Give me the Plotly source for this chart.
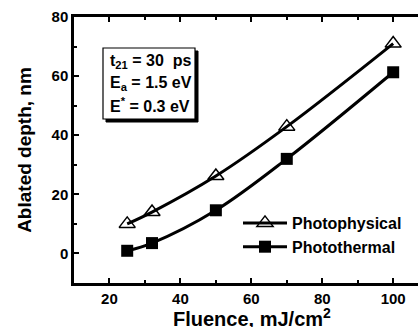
import plotly.graph_objects as go

fluence = [25, 32, 50, 70, 100]
photophysical = [10.0, 14.0, 26.2, 42.9, 71.0]
photothermal = [0.9, 3.5, 14.6, 32.0, 61.3]
box_lines = ["t<sub>21</sub> = 30  ps", "E<sub>a</sub> = 1.5 eV", "E<sup>*</sup> = 0.3 eV"]

font_family = "Liberation Sans, Arial, sans-serif"

fig = go.Figure()
fig.add_trace(go.Scatter(
    x=fluence, y=photophysical, name="Photophysical",
    mode="lines+markers", line=dict(color="black", width=3, shape="spline"),
    marker=dict(symbol="triangle-up-open", size=14, color="black", line=dict(width=1.5)),
))
fig.add_trace(go.Scatter(
    x=fluence, y=photothermal, name="Photothermal",
    mode="lines+markers", line=dict(color="black", width=3, shape="spline"),
    marker=dict(symbol="square", size=12, color="black"),
))

axis_common = dict(
    showgrid=False, zeroline=False, showline=True, linecolor="black", linewidth=2.5,
    ticks="inside", ticklen=5, tickwidth=2, tickcolor="black", automargin=False,
    tickfont=dict(family=font_family, size=15, color="black", weight="bold"),
)

fig.update_xaxes(
    range=[10, 107], tickvals=[20, 40, 60, 80, 100], mirror="ticks",
    minor=dict(ticks="inside", ticklen=3, tickwidth=2, tickcolor="black", dtick=10, tick0=0),
    **axis_common,
)
fig.update_yaxes(
    range=[-10, 80], tickvals=[0, 20, 40, 60, 80],
    minor=dict(ticks="inside", ticklen=3, tickwidth=2, tickcolor="black", dtick=10, tick0=0),
    title=dict(text="Ablated depth, nm", standoff=15,
               font=dict(family=font_family, size=19, color="black", weight="bold")),
    **axis_common,
)

# x axis title
fig.add_annotation(
    xref="paper", yref="paper", x=(252 - 74) / 344, y=(283 - 317) / 266,
    xanchor="center", yanchor="middle", showarrow=False,
    text="Fluence, mJ/cm<sup>2</sup>",
    font=dict(family=font_family, size=20, color="black", weight="bold"),
)

# text box with shadow
fig.add_shape(type="rect", xref="paper", yref="paper",
              x0=(106 - 74) / 344, x1=(198 - 74) / 344,
              y0=(283 - 122) / 266, y1=(283 - 51) / 266,
              fillcolor="black", line=dict(color="black", width=1), layer="above")
fig.add_shape(type="rect", xref="paper", yref="paper",
              x0=(103 - 74) / 344, x1=(195 - 74) / 344,
              y0=(283 - 119) / 266, y1=(283 - 48) / 266,
              fillcolor="white", line=dict(color="black", width=1.2), layer="above")
for line_text, ypix in zip(box_lines, [61, 83, 105]):
    fig.add_annotation(
        xref="paper", yref="paper", x=(108 - 74) / 344, y=(283 - ypix) / 266,
        xanchor="left", yanchor="middle", align="left", showarrow=False,
        text=line_text,
        font=dict(family=font_family, size=16, color="black", weight="bold"),
    )

fig.update_layout(
    width=418, height=327,
    margin=dict(l=74, r=0, t=17, b=44),
    paper_bgcolor="white", plot_bgcolor="white",
    showlegend=True,
    legend=dict(x=(238 - 74) / 344, y=(283 - 206) / 266, xanchor="left", yanchor="top",
                bgcolor="rgba(0,0,0,0)", tracegroupgap=0, itemwidth=44,
                font=dict(family=font_family, size=16, color="black", weight="bold")),
)

fig.write_html("out.html", config={"displayModeBar": False},
               post_script="document.body.style.margin='0';document.body.style.overflow='hidden';")
